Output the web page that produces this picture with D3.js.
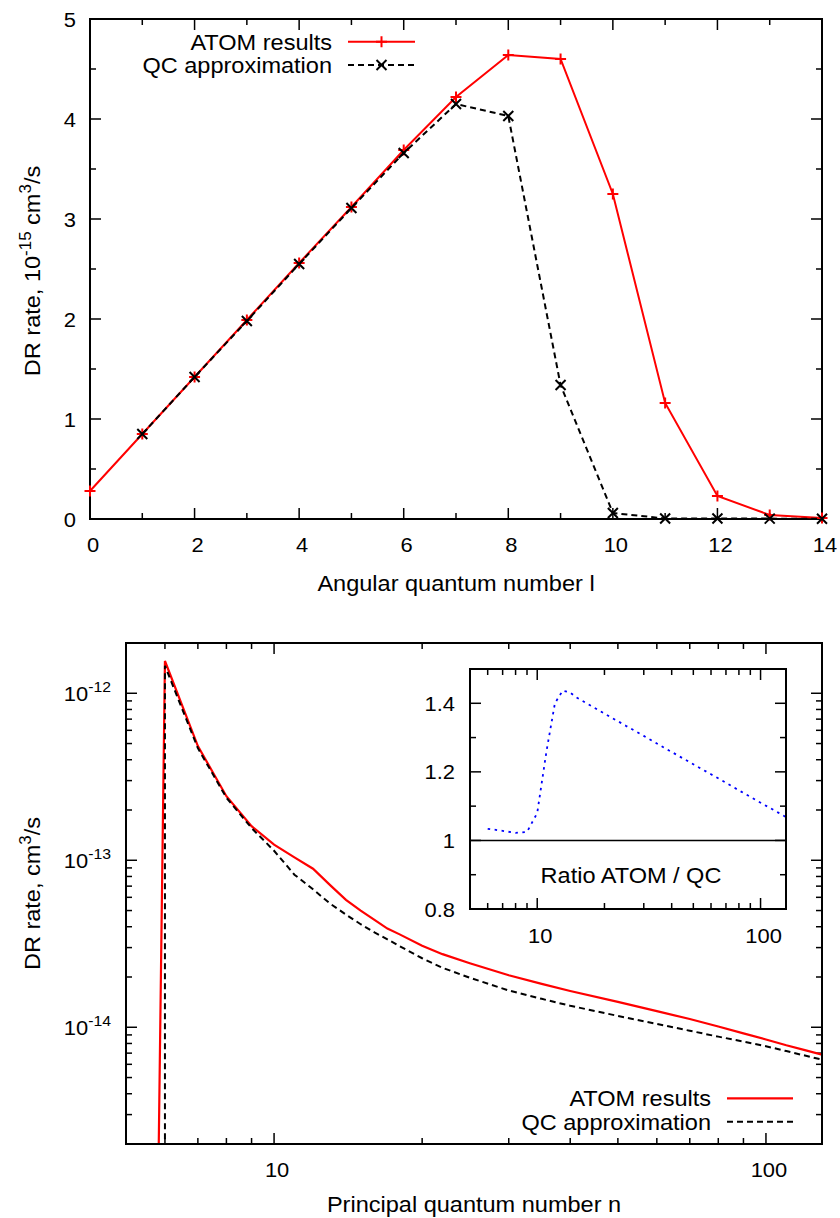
<!DOCTYPE html>
<html><head><meta charset="utf-8">
<script src="https://cdn.jsdelivr.net/npm/d3@7"></script>
<style>
body{margin:0;background:#fff}
svg{display:block}
text{font-family:"Liberation Sans",Arial,Helvetica,sans-serif;fill:#000}
</style>
</head><body>
<svg id="c" width="840" height="1218"></svg>
<script>
// ---------- DATA ----------
// Top panel: DR rate (10^-15 cm^3/s) vs angular quantum number l
const lValues   = [0,1,2,3,4,5,6,7,8,9,10,11,12,13,14];
const atomByL   = [0.28,0.85,1.42,1.99,2.56,3.12,3.69,4.22,4.64,4.60,3.25,1.16,0.23,0.04,0.01];
const qcLValues = [1,2,3,4,5,6,7,8,9,10,11,12,13,14];
const qcByL     = [0.85,1.42,1.98,2.55,3.11,3.66,4.15,4.03,1.34,0.06,0.005,0.005,0.004,0.002];
const lTickLabels = [0,2,4,6,8,10,12,14];
const rateTickLabels = [0,1,2,3,4,5];

// Bottom panel: DR rate (cm^3/s) vs principal quantum number n
const atomNValues = [5,6,7,8,9,10,11,12,13,14,15,16,17,18,20,22,25,30,35,40,50,60,70,80,90,100,110,120,130];
const atomByN     = [1e-30,1.56e-12,4.83e-13,2.42e-13,1.60e-13,1.24e-13,1.04e-13,8.9e-14,7.1e-14,5.8e-14,5.0e-14,4.4e-14,3.9e-14,3.6e-14,3.08e-14,2.74e-14,2.42e-14,2.05e-14,1.82e-14,1.65e-14,1.42e-14,1.25e-14,1.12e-14,1.01e-14,9.2e-15,8.45e-15,7.8e-15,7.3e-15,6.86e-15];
const qcNValues   = [6,6,7,8,9,10,11,12,13,14,15,16,17,18,20,22,25,30,35,40,50,60,70,80,90,100,110,120,130];
const qcByN       = [1e-30,1.46e-12,4.69e-13,2.37e-13,1.56e-13,1.14e-13,8.2e-14,6.7e-14,5.5e-14,4.73e-14,4.14e-14,3.7e-14,3.36e-14,3.06e-14,2.59e-14,2.27e-14,1.98e-14,1.66e-14,1.48e-14,1.345e-14,1.17e-14,1.047e-14,9.53e-15,8.79e-15,8.2e-15,7.7e-15,7.2e-15,6.77e-15,6.4e-15];
const nTickLabels = [10,100];
const rateLogTickExps = [-12,-13,-14];

// Inset: ratio ATOM / QC
const ratioNValues = [6,7,8,9,10,11,12,13,14,15,20,25,30,40,50,60,70,80,90,100,110,120,130];
const ratioValues  = [1.034,1.028,1.022,1.025,1.08,1.26,1.40,1.437,1.432,1.417,1.370,1.334,1.305,1.258,1.222,1.193,1.168,1.146,1.127,1.110,1.095,1.081,1.068];
const ratioTickLabels = [0.8,1,1.2,1.4];

const seriesNames = ["ATOM results","QC approximation"];

// ---------- HELPERS ----------
const SX = 1.07;        // slight horizontal stretch of glyphs, as in the original
const FT = 20.5;        // tick font size
const FL = 22;          // label font size
const svg = d3.select("#c");

function txt(g, x, y, parts, o = {}) {
  const anchor = o.anchor || "middle", size = o.size || FL, rot = o.rotate || 0;
  const t = g.append("text")
    .attr("transform", `translate(${x},${y}) rotate(${rot}) scale(${SX},1)`)
    .attr("text-anchor", anchor)
    .style("font-size", size + "px");
  let up = false;
  parts.forEach(p => {
    const s = typeof p === "string" ? {t: p} : p;
    const ts = t.append("tspan").text(s.t);
    if (s.sup) { ts.style("font-size", (size * 0.72) + "px").attr("dy", up ? 0 : -9); up = true; }
    else { if (up) ts.attr("dy", 9); up = false; }
  });
  return t;
}
function tick(g, x1, y1, x2, y2) {
  g.append("line").attr("x1", x1).attr("y1", y1).attr("x2", x2).attr("y2", y2)
    .attr("stroke", "#000").attr("stroke-width", 1.5);
}
const MAJ = 11, MIN = 6;

// ---------- TOP PANEL ----------
const gT = svg.append("g");
const xT = d3.scaleLinear().domain([0, 14]).range([90, 822]);
const yT = d3.scaleLinear().domain([0, 5]).range([519, 19]);
const [tL, tR] = xT.range(), [tB, tTop] = yT.range();

d3.range(0, 15, 1).forEach(v => {
  const len = v % 2 === 0 ? MAJ : MIN, x = xT(v);
  tick(gT, x, tB, x, tB - len); tick(gT, x, tTop, x, tTop + len);
});
d3.range(0, 5.01, 0.5).forEach(v => {
  const len = Number.isInteger(v) ? MAJ : MIN, y = yT(v);
  tick(gT, tL, y, tL + len, y); tick(gT, tR, y, tR - len, y);
});
lTickLabels.forEach(v => txt(gT, xT(v) + 3, 552, [String(v)], {size: FT}));
rateTickLabels.forEach(v => txt(gT, tL - 14, yT(v) + 7.5, [String(v)], {size: FT, anchor: "end"}));
gT.append("rect").attr("x", tL).attr("y", tTop).attr("width", tR - tL).attr("height", tB - tTop)
  .attr("fill", "none").attr("stroke", "#000").attr("stroke-width", 2);

const atomL = lValues.map((l, i) => ({x: l, y: atomByL[i]}));
const qcL = qcLValues.map((l, i) => ({x: l, y: qcByL[i]}));
const lineT = d3.line().x(d => xT(d.x)).y(d => yT(d.y));
const plusP = "M-5.5,0H5.5M0,-5.5V5.5";
const crossP = "M-5,-5L5,5M-5,5L5,-5";

gT.append("path").datum(atomL).attr("d", lineT).attr("fill", "none").attr("stroke", "#ff0000").attr("stroke-width", 2);
gT.selectAll(".pa").data(atomL).enter().append("path").attr("d", plusP)
  .attr("transform", d => `translate(${xT(d.x)},${yT(d.y)})`).attr("stroke", "#ff0000").attr("stroke-width", 2);
gT.append("path").datum(qcL).attr("d", lineT).attr("fill", "none").attr("stroke", "#000")
  .attr("stroke-width", 2).attr("stroke-dasharray", "6,4");
gT.selectAll(".pq").data(qcL).enter().append("path").attr("d", crossP)
  .attr("transform", d => `translate(${xT(d.x)},${yT(d.y)})`).attr("stroke", "#000").attr("stroke-width", 2);

// top legend
txt(gT, 332, 49.5, [seriesNames[0]], {anchor: "end"});
txt(gT, 332, 73, [seriesNames[1]], {anchor: "end"});
gT.append("line").attr("x1", 348).attr("x2", 415).attr("y1", 41.7).attr("y2", 41.7).attr("stroke", "#ff0000").attr("stroke-width", 2);
gT.append("path").attr("d", plusP).attr("transform", "translate(381.5,41.7)").attr("stroke", "#ff0000").attr("stroke-width", 2);
gT.append("line").attr("x1", 348).attr("x2", 415).attr("y1", 65).attr("y2", 65).attr("stroke", "#000").attr("stroke-width", 2).attr("stroke-dasharray", "6,4");
gT.append("path").attr("d", crossP).attr("transform", "translate(381.5,65)").attr("stroke", "#000").attr("stroke-width", 2);

// axis labels
txt(gT, 40, 271, ["DR rate, 10", {t: "-15", sup: true}, " cm", {t: "3", sup: true}, "/s"], {rotate: -90});
txt(gT, (tL + tR) / 2, 591, ["Angular quantum number l"]);

// ---------- BOTTOM PANEL ----------
const gB = svg.append("g");
const xB = d3.scaleLog().domain([5, 130]).range([126, 822]);
const yB = d3.scaleLog().domain([2e-15, 2e-12]).range([1144, 643]);
const [bL, bR] = xB.range(), [bB, bTop] = yB.range();

const nTicks = [6,7,8,9,10,20,30,40,50,60,70,80,90,100];
nTicks.forEach(v => {
  const len = (v === 10 || v === 100) ? MAJ : MIN, x = xB(v);
  tick(gB, x, bB, x, bB - len); tick(gB, x, bTop, x, bTop + len);
});
[-15, -14, -13, -12].forEach(e => {
  for (let m = 1; m <= 9; m++) {
    const v = m * Math.pow(10, e);
    if (v < 2e-15 * 1.0001 || v > 2e-12 * 0.9999) continue;
    const len = m === 1 ? MAJ : MIN, y = yB(v);
    tick(gB, bL, y, bL + len, y); tick(gB, bR, y, bR - len, y);
  }
});
nTickLabels.forEach(v => txt(gB, xB(v) + 3, 1177, [String(v)], {size: FT}));
rateLogTickExps.forEach(e => txt(gB, bL - 15, yB(Math.pow(10, e)) + 8, ["10", {t: String(e), sup: true}], {size: FT, anchor: "end"}));

svg.append("defs").append("clipPath").attr("id", "clipB").append("rect")
  .attr("x", bL).attr("y", bTop).attr("width", bR - bL).attr("height", bB - bTop);
const lineB = d3.line().x(d => xB(d.x)).y(d => yB(d.y));
const atomN = atomNValues.map((n, i) => ({x: n, y: atomByN[i]}));
const qcN = qcNValues.map((n, i) => ({x: n, y: qcByN[i]}));
const gc = gB.append("g").attr("clip-path", "url(#clipB)");
gc.append("path").datum(atomN).attr("d", lineB).attr("fill", "none").attr("stroke", "#ff0000").attr("stroke-width", 2.2);
gc.append("path").datum(qcN).attr("d", lineB).attr("fill", "none").attr("stroke", "#000").attr("stroke-width", 2).attr("stroke-dasharray", "6,4");

gB.append("rect").attr("x", bL).attr("y", bTop).attr("width", bR - bL).attr("height", bB - bTop)
  .attr("fill", "none").attr("stroke", "#000").attr("stroke-width", 2);

// bottom legend
txt(gB, 711, 1106, [seriesNames[0]], {anchor: "end"});
txt(gB, 711, 1130, [seriesNames[1]], {anchor: "end"});
gB.append("line").attr("x1", 727).attr("x2", 793).attr("y1", 1098.3).attr("y2", 1098.3).attr("stroke", "#ff0000").attr("stroke-width", 2.2);
gB.append("line").attr("x1", 727).attr("x2", 793).attr("y1", 1121.7).attr("y2", 1121.7).attr("stroke", "#000").attr("stroke-width", 2).attr("stroke-dasharray", "6,4");

txt(gB, 40, (bTop + bB) / 2, ["DR rate, cm", {t: "3", sup: true}, "/s"], {rotate: -90});
txt(gB, (bL + bR) / 2, 1212, ["Principal quantum number n"]);

// ---------- INSET ----------
const gI = svg.append("g");
const xI = d3.scaleLog().domain([5, 130]).range([470, 786]);
const yI = d3.scaleLinear().domain([0.8, 1.5]).range([909, 669]);
const [iL, iR] = xI.range(), [iB, iTop] = yI.range();
gI.append("rect").attr("x", iL).attr("y", iTop).attr("width", iR - iL).attr("height", iB - iTop).attr("fill", "#fff");
nTicks.forEach(v => {
  const len = (v === 10 || v === 100) ? MAJ : MIN, x = xI(v);
  tick(gI, x, iB, x, iB - len); tick(gI, x, iTop, x, iTop + len);
});
d3.range(8, 15, 1).forEach(k => {
  const v = k / 10, len = k % 2 === 0 ? MAJ : MIN, y = yI(v);
  tick(gI, iL, y, iL + len, y); tick(gI, iR, y, iR - len, y);
});
ratioTickLabels.forEach(v => txt(gI, iL - 15, yI(v) + 7.5, [String(v)], {size: FT, anchor: "end"}));
nTickLabels.forEach(v => txt(gI, xI(v) + 3, 943, [String(v)], {size: FT}));
// ratio = 1 reference
gI.append("line").attr("x1", xI(5)).attr("x2", xI(130)).attr("y1", yI(1)).attr("y2", yI(1)).attr("stroke", "#000").attr("stroke-width", 1.6);
const ratio = ratioNValues.map((n, i) => ({x: n, y: ratioValues[i]}));
gI.append("path").datum(ratio).attr("d", d3.line().x(d => xI(d.x)).y(d => yI(d.y)))
  .attr("fill", "none").attr("stroke", "#0000ff").attr("stroke-width", 1.8).attr("stroke-dasharray", "2.5,4.5");
txt(gI, 631, 883, ["Ratio ATOM / QC"]);
gI.append("rect").attr("x", iL).attr("y", iTop).attr("width", iR - iL).attr("height", iB - iTop)
  .attr("fill", "none").attr("stroke", "#000").attr("stroke-width", 2);
</script>
</body></html>
